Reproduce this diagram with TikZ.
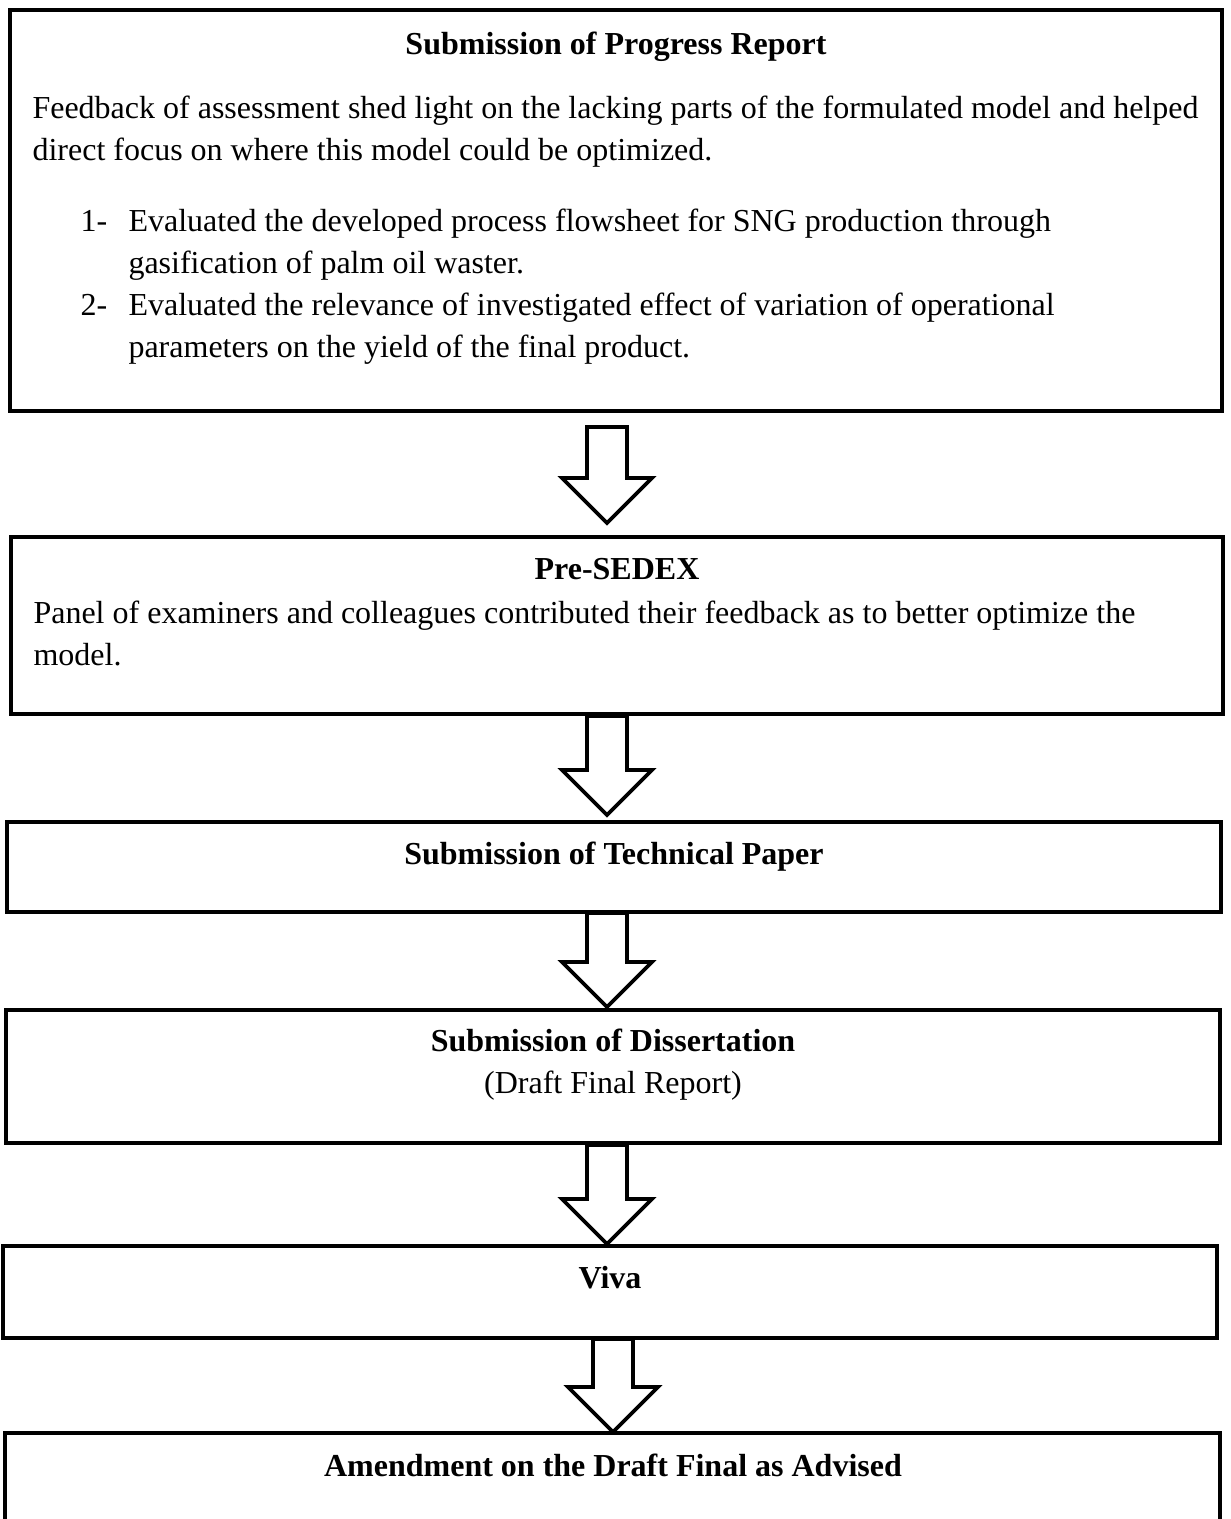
\documentclass[tikz,border=0pt]{standalone}
\usepackage{fontspec}
\setmainfont{Liberation Serif}
\usetikzlibrary{calc,fit}

\tikzset{
  stage/.style={draw, line width=1.2pt, inner sep=0pt},
  title/.style={font=\fontsize{12}{14}\selectfont\bfseries, anchor=base, inner sep=0pt},
  body/.style={font=\fontsize{12}{14}\selectfont, anchor=base west, inner sep=0pt},
  hollow/.style={draw, line width=1.4pt, fill=white, line join=miter}
}
% hollow block arrow from #1 (top of shaft) to #2 (tip)
\newcommand{\hollowarrow}[2]{%
  \draw[hollow] ($(#1)+(-20,0)$) -- ($(#1)+(20,0)$) -- ($(#2)+(20,-45)$)
    -- ($(#2)+(45,-45)$) -- (#2) -- ($(#2)+(-45,-45)$) -- ($(#2)+(-20,-45)$) -- cycle;}

\begin{document}
\begin{tikzpicture}[x=0.375pt, y=-0.375pt]
\useasboundingbox (0,0) rectangle (1230,1519);
\fill[white] (0,0) rectangle (1230,1519);

% boxes
\node[stage, fit={(10,10) (1222,411)}] (report) {};
\node[stage, fit={(11,537) (1223,714)}] (sedex) {};
\node[stage, fit={(7,822) (1221,912)}] (paper) {};
\node[stage, fit={(6,1010) (1220,1143)}] (thesis) {};
\node[stage, fit={(3,1246) (1217,1338)}] (viva) {};
\node[stage, fit={(5,1433) (1220,1560)}] (amend) {};

% progress report
\node[title] (reporttitle) at (616,54) {Submission of Progress Report};
\node[body] (fb1) at (32,118) {Feedback of assessment shed light on the lacking parts of the formulated model and helped};
\node[body] (fb2) at (32,160) {direct focus on where this model could be optimized.};
\node[body] (num1) at (80,231) {1-};
\node[body] (item1a) at (128,231) {Evaluated the developed process flowsheet for SNG production through};
\node[body] (item1b) at (128,273) {gasification of palm oil waster.};
\node[body] (num2) at (80,315) {2-};
\node[body] (item2a) at (128,315) {Evaluated the relevance of investigated effect of variation of operational};
\node[body] (item2b) at (128,357) {parameters on the yield of the final product.};

% pre-sedex
\node[title] (sedextitle) at (617,579) {Pre-SEDEX};
\node[body] (panel1) at (33,623) {Panel of examiners and colleagues contributed their feedback as to better optimize the};
\node[body] (panel2) at (33,665) {model.};

% remaining stages
\node[title] (papertitle) at (614,864) {Submission of Technical Paper};
\node[title] (thesistitle) at (613,1051) {Submission of Dissertation};
\node[body, anchor=base] (thesisnote) at (613,1093) {(Draft Final Report)};
\node[title] (vivatitle) at (610,1288) {Viva};
\node[title] (amendtitle) at (613,1476) {Amendment on the Draft Final as Advised};

% arrows
\coordinate (a1top) at (607,427);
\coordinate (a1tip) at (607,523);
\coordinate (a2top) at (607,716);
\coordinate (a2tip) at (607,815);
\coordinate (a3top) at (607,913);
\coordinate (a3tip) at (607,1007);
\coordinate (a4top) at (607,1145);
\coordinate (a4tip) at (607,1244);
\coordinate (a5top) at (613,1339);
\coordinate (a5tip) at (613,1432);
\hollowarrow{a1top}{a1tip}
\hollowarrow{a2top}{a2tip}
\hollowarrow{a3top}{a3tip}
\hollowarrow{a4top}{a4tip}
\hollowarrow{a5top}{a5tip}
\end{tikzpicture}
\end{document}
